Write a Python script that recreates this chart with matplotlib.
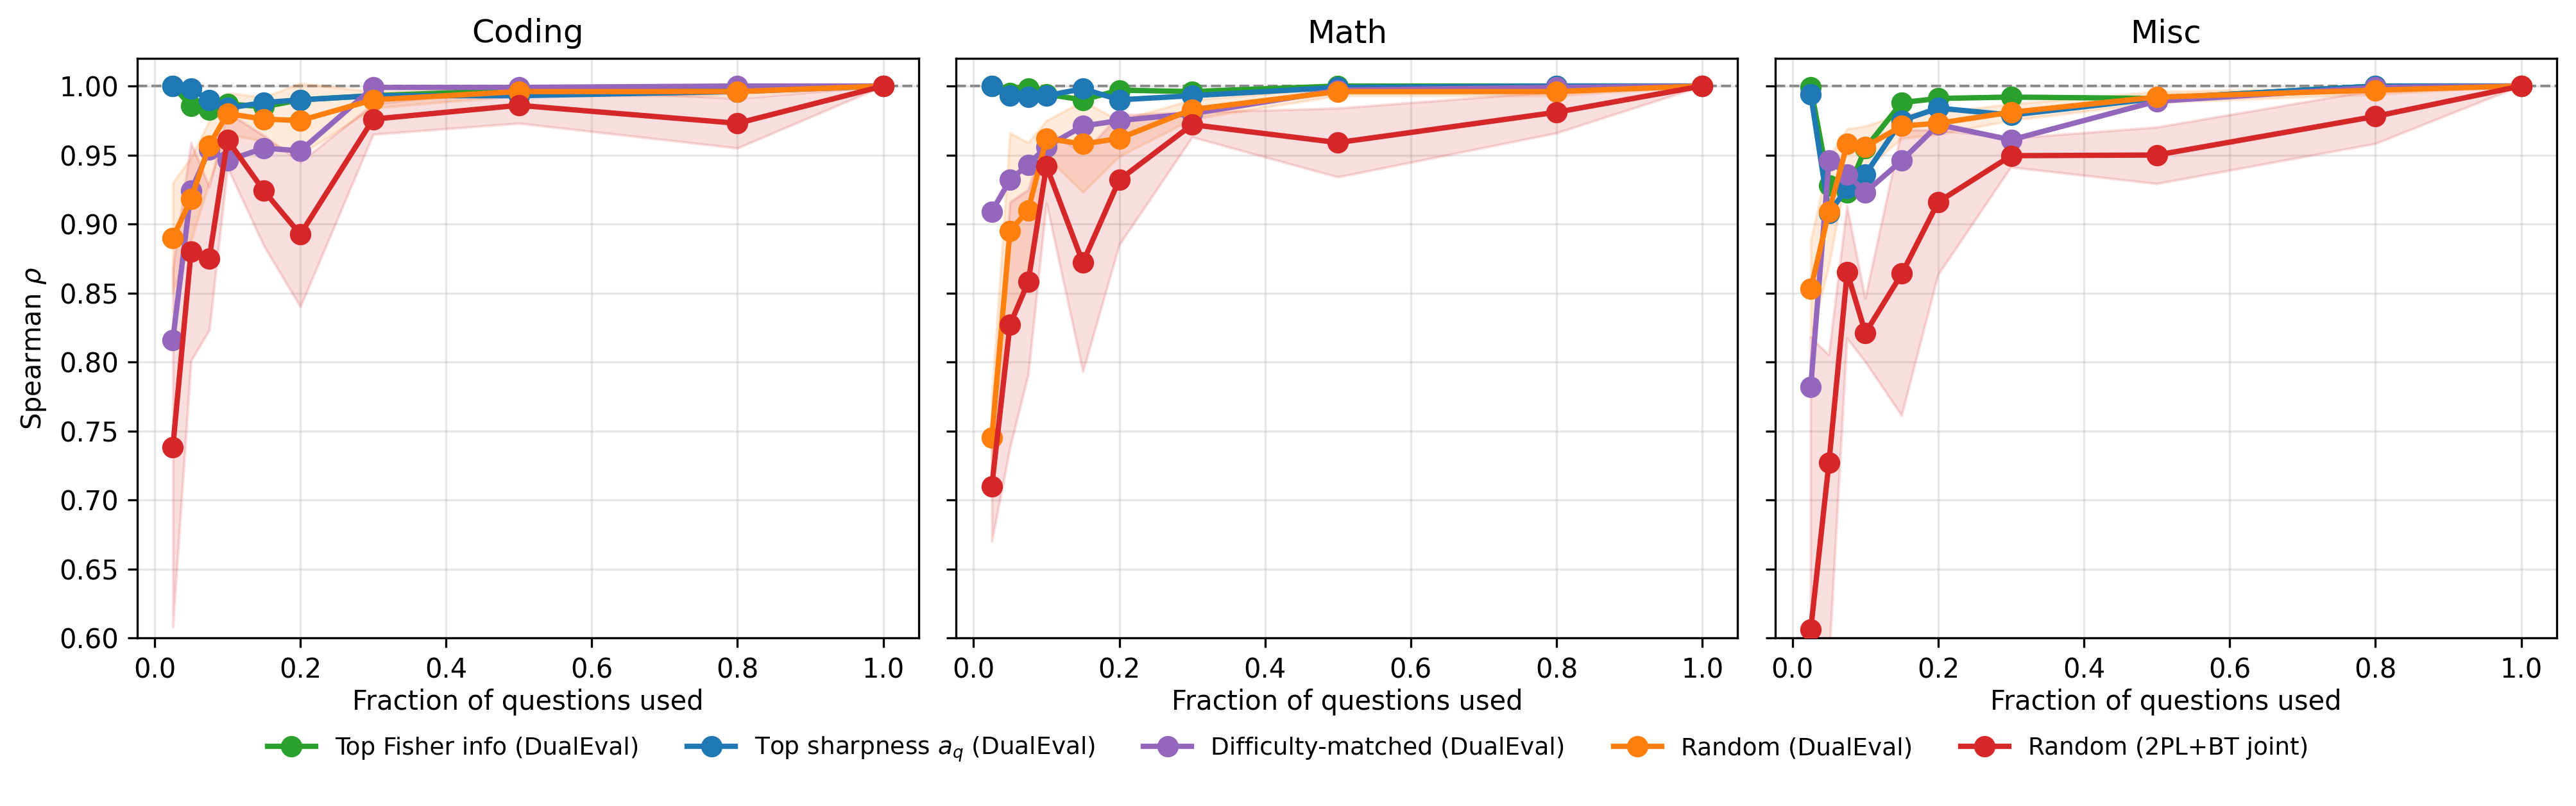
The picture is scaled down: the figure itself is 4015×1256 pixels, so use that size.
import numpy as np
import matplotlib
matplotlib.use("Agg")
import matplotlib.pyplot as plt

# fractions of questions used
fractions = [0.025, 0.05, 0.075, 0.1, 0.15, 0.2, 0.3, 0.5, 0.8, 1.0]
domains = ["Coding", "Math", "Misc"]

labels = [
    "Top Fisher info (DualEval)",
    "Top sharpness $a_q$ (DualEval)",
    "Difficulty-matched (DualEval)",
    "Random (DualEval)",
    "Random (2PL+BT joint)",
]
colors = ["#2ca02c", "#1f77b4", "#9467bd", "#ff7f0e", "#d62728"]

# --- Coding ---
coding_fisher = [1.000, 0.9855, 0.983, 0.987, 0.985, 0.990, 0.993, 0.997, 0.999, 1.0]
coding_sharp = [1.000, 0.998, 0.990, 0.984, 0.988, 0.990, 0.993, 0.993, 0.996, 1.0]
coding_diff = [0.816, 0.924, 0.954, 0.946, 0.955, 0.953, 0.999, 0.999, 1.000, 1.0]
coding_rand = [0.890, 0.918, 0.957, 0.980, 0.976, 0.975, 0.990, 0.996, 0.996, 1.0]
coding_rand_lo = [0.851, 0.888, 0.930, 0.965, 0.960, 0.950, 0.984, 0.993, 0.993, 1.0]
coding_rand_hi = [0.930, 0.948, 0.975, 0.995, 0.992, 1.002, 0.996, 0.999, 0.999, 1.0]
coding_joint = [0.738, 0.880, 0.875, 0.961, 0.924, 0.8925, 0.976, 0.986, 0.973, 1.0]
coding_joint_lo = [0.608, 0.801, 0.823, 0.941, 0.884, 0.840, 0.965, 0.973, 0.955, 1.0]
coding_joint_hi = [0.868, 0.959, 0.927, 0.981, 0.964, 0.945, 0.987, 0.999, 0.991, 1.0]

# --- Math ---
math_fisher = [1.000, 0.995, 0.998, 0.994, 0.990, 0.997, 0.996, 1.000, 1.000, 1.0]
math_sharp = [1.000, 0.993, 0.992, 0.993, 0.998, 0.990, 0.993, 0.999, 1.000, 1.0]
math_diff = [0.909, 0.932, 0.943, 0.956, 0.971, 0.975, 0.980, 0.997, 0.999, 1.0]
math_rand = [0.745, 0.895, 0.910, 0.962, 0.958, 0.962, 0.983, 0.996, 0.996, 1.0]
math_rand_lo = [0.715, 0.825, 0.861, 0.949, 0.923, 0.949, 0.976, 0.993, 0.993, 1.0]
math_rand_hi = [0.775, 0.966, 0.959, 0.975, 0.989, 0.975, 0.990, 0.999, 0.999, 1.0]
math_joint = [0.710, 0.827, 0.858, 0.942, 0.872, 0.932, 0.972, 0.959, 0.981, 1.0]
math_joint_lo = [0.670, 0.738, 0.791, 0.915, 0.793, 0.885, 0.963, 0.934, 0.966, 1.0]
math_joint_hi = [0.750, 0.916, 0.925, 0.969, 0.951, 0.979, 0.981, 0.984, 0.996, 1.0]

# --- Misc ---
misc_fisher = [0.999, 0.928, 0.923, 0.955, 0.988, 0.991, 0.992, 0.991, 1.000, 1.0]
misc_sharp = [0.994, 0.908, 0.926, 0.936, 0.975, 0.984, 0.979, 0.991, 1.000, 1.0]
misc_diff = [0.782, 0.946, 0.936, 0.923, 0.946, 0.972, 0.961, 0.989, 0.999, 1.0]
misc_rand = [0.853, 0.909, 0.958, 0.956, 0.971, 0.973, 0.981, 0.992, 0.997, 1.0]
misc_rand_lo = [0.818, 0.870, 0.940, 0.940, 0.962, 0.965, 0.975, 0.988, 0.994, 1.0]
misc_rand_hi = [0.888, 0.948, 0.969, 0.971, 0.980, 0.981, 0.987, 0.996, 0.999, 1.0]
misc_joint = [0.606, 0.727, 0.865, 0.821, 0.864, 0.916, 0.9495, 0.950, 0.978, 1.0]
misc_joint_lo = [0.390, 0.580, 0.817, 0.800, 0.761, 0.863, 0.941, 0.929, 0.958, 1.0]
misc_joint_hi = [0.818, 0.805, 0.913, 0.846, 0.968, 0.968, 0.962, 0.970, 0.997, 1.0]

panels = [
    (coding_fisher, coding_sharp, coding_diff, coding_rand, coding_joint,
     (coding_rand_lo, coding_rand_hi), (coding_joint_lo, coding_joint_hi)),
    (math_fisher, math_sharp, math_diff, math_rand, math_joint,
     (math_rand_lo, math_rand_hi), (math_joint_lo, math_joint_hi)),
    (misc_fisher, misc_sharp, misc_diff, misc_rand, misc_joint,
     (misc_rand_lo, misc_rand_hi), (misc_joint_lo, misc_joint_hi)),
]

fig, axes = plt.subplots(1, 3, figsize=(4015 / 300, 1256 / 300), dpi=300, sharey=True)

for ax, name, pdata in zip(axes, domains, panels):
    series = pdata[:5]
    bands = {3: pdata[5], 4: pdata[6]}
    ax.axhline(1.0, color="gray", linestyle="--", linewidth=1, zorder=1)
    for i, ys in enumerate(series):
        if i in bands:
            lo, hi = bands[i]
            ax.fill_between(fractions, lo, hi, color=colors[i], alpha=0.15, zorder=2)
        ax.plot(fractions, ys, marker="o", markersize=7, linewidth=2,
                color=colors[i], label=labels[i], zorder=3)
    ax.set_title(name, fontsize=12)
    ax.set_xlabel("Fraction of questions used", fontsize=10, labelpad=2)
    ax.set_ylim(0.60, 1.02)
    ax.set_xticks([0.0, 0.2, 0.4, 0.6, 0.8, 1.0])
    ax.set_yticks(np.arange(0.60, 1.001, 0.05))
    ax.grid(True, alpha=0.3)
    ax.tick_params(labelsize=10)

axes[0].set_ylabel(r"Spearman $\rho$", fontsize=10)
axes[0].yaxis.set_major_formatter(matplotlib.ticker.FormatStrFormatter("%.2f"))

handles, leg_labels = axes[0].get_legend_handles_labels()
fig.legend(handles, leg_labels, loc="center", bbox_to_anchor=(0.5, 0.07),
           ncol=5, frameon=False, fontsize=9)

plt.subplots_adjust(left=0.0533, right=0.9925, top=0.9275, bottom=0.2086, wspace=0.048)
plt.savefig("out.png", dpi=300)
